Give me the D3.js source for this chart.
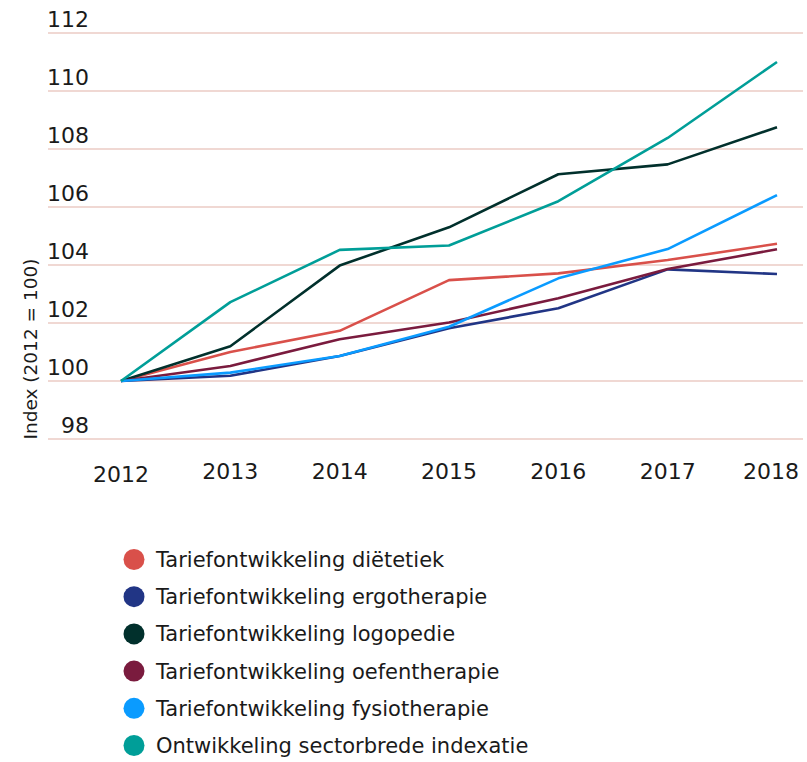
<!DOCTYPE html>
<html>
<head>
<meta charset="utf-8">
<script src="https://cdn.jsdelivr.net/npm/d3@7"></script>
<style>
  body { margin: 0; background: #fff; }
  svg { display: block; font-family: "DejaVu Sans", Verdana, sans-serif; }
</style>
</head>
<body>
<div class="chart"></div>
<script>
// years on the x axis
var years = [2012, 2013, 2014, 2015, 2016, 2017, 2018];
var yTicks = [98, 100, 102, 104, 106, 108, 110, 112];

var seriesNames = [
  "Tariefontwikkeling diëtetiek",
  "Tariefontwikkeling ergotherapie",
  "Tariefontwikkeling logopedie",
  "Tariefontwikkeling oefentherapie",
  "Tariefontwikkeling fysiotherapie",
  "Ontwikkeling sectorbrede indexatie"
];
var seriesColors = ["#d9504a", "#213585", "#01302c", "#7a1b3e", "#0a9bff", "#009e98"];

// index values per series (2012 = 100)
var dietetiek      = [100, 101.0, 101.73, 103.48, 103.71, 104.17, 104.73];
var ergotherapie   = [100, 100.18, 100.86, 101.82, 102.51, 103.85, 103.69];
var logopedie      = [100, 101.2, 103.98, 105.3, 107.13, 107.47, 108.75];
var oefentherapie  = [100, 100.52, 101.44, 102.02, 102.85, 103.86, 104.54];
var fysiotherapie  = [100, 100.29, 100.86, 101.87, 103.54, 104.55, 106.41];
var indexatie      = [100, 102.72, 104.52, 104.67, 106.2, 108.38, 111.0];

var allValues = [dietetiek, ergotherapie, logopedie, oefentherapie, fysiotherapie, indexatie];

var width = 807, height = 762;

var svg = d3.select(".chart")
    .append("svg")
    .attr("width", width)
    .attr("height", height);

var x = d3.scalePoint()
    .domain(years)
    .range([121, 777]);

var y = d3.scaleLinear()
    .domain([98, 112])
    .range([439, 33]);

// gridlines
svg.append("g")
    .selectAll("line")
    .data(yTicks)
    .enter()
    .append("line")
    .attr("x1", 48)
    .attr("x2", 803)
    .attr("y1", d => y(d))
    .attr("y2", d => y(d))
    .style("stroke", "#f0d8d3")
    .style("stroke-width", 2);

// y tick labels sit above their gridline
svg.append("g")
    .selectAll("text")
    .data(yTicks)
    .enter()
    .append("text")
    .attr("x", 89)
    .attr("y", d => y(d) - 6)
    .attr("text-anchor", "end")
    .style("font-size", "22px")
    .style("fill", "#1a1a1a")
    .text(d => d);

// x tick labels
svg.append("g")
    .selectAll("text")
    .data(years)
    .enter()
    .append("text")
    .attr("x", (d, i) => i == years.length - 1 ? x(d) - 6 : x(d))
    .attr("y", (d, i) => i == 0 ? 481.5 : 478.5)
    .attr("text-anchor", "middle")
    .style("font-size", "22px")
    .style("fill", "#1a1a1a")
    .text(d => d);

// axis title
svg.append("text")
    .attr("transform", "translate(37,349)rotate(-90)")
    .attr("text-anchor", "middle")
    .style("font-size", "18.5px")
    .style("fill", "#1a1a1a")
    .text("Index (2012 = 100)");

var line = d3.line()
    .x((d, i) => x(years[i]))
    .y(d => y(d));

svg.append("g")
    .selectAll("path")
    .data(allValues)
    .enter()
    .append("path")
    .attr("d", line)
    .style("fill", "none")
    .style("stroke", (d, i) => seriesColors[i])
    .style("stroke-width", 2.6)
    .style("stroke-linejoin", "round");

// legend
var legend = svg.append("g")
    .selectAll("g")
    .data(seriesNames)
    .enter()
    .append("g")
    .attr("transform", (d, i) => "translate(134," + (559.5 + i * 37.2) + ")");

legend.append("circle")
    .attr("r", 10.5)
    .style("fill", (d, i) => seriesColors[i]);

legend.append("text")
    .attr("x", 22)
    .attr("y", 7.5)
    .style("font-size", "21px")
    .style("fill", "#1a1a1a")
    .text(d => d);
</script>
</body>
</html>
